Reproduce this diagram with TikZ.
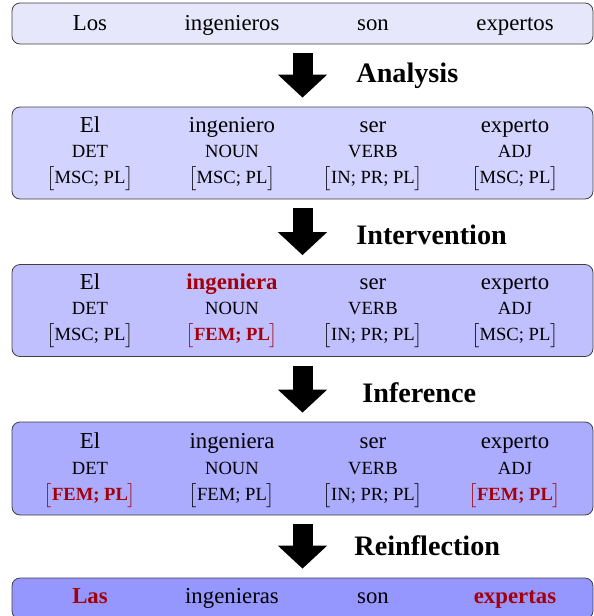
\documentclass[tikz,border=0pt]{standalone}
\usepackage{fontspec}
\setmainfont{Liberation Serif}
\usetikzlibrary{arrows.meta}

\definecolor{hlred}{RGB}{163,0,10}
\definecolor{stageA}{RGB}{231,231,252}
\definecolor{stageB}{RGB}{211,211,255}
\definecolor{stageC}{RGB}{192,192,255}
\definecolor{stageD}{RGB}{172,172,255}
\definecolor{stageE}{RGB}{150,150,255}

\newcommand{\hl}[1]{\textcolor{hlred}{\bfseries #1}}
\newcommand{\fs}[1]{$\big[$#1$\big]$}

\tikzset{
  stagebox/.style={draw=black!75, rounded corners=4pt, minimum width=290.5pt, inner sep=0pt},
  word/.style={anchor=base, font=\fontsize{11.4}{13}\selectfont},
  tag/.style={anchor=base, font=\fontsize{9.3}{11}\selectfont},
  stepname/.style={anchor=base west, inner sep=0pt, font=\fontsize{14.1}{16}\selectfont\bfseries},
  stagearrow/.style={line width=10pt, -{Triangle[width=24pt, length=11.5pt]},
    shorten <=4.5pt, shorten >=4.5pt}
}

\begin{document}
\begin{tikzpicture}[x=0.5pt, y=-0.5pt]
  \clip (0,0) rectangle (594,616);

  % Boxes
  \node[stagebox, fill=stageA, minimum height=20.5pt] (box1) at (302.5, 23.5) {};
  \node[stagebox, fill=stageB, minimum height=46pt] (box2) at (302.5, 153) {};
  \node[stagebox, fill=stageC, minimum height=46pt] (box3) at (302.5, 310.5) {};
  \node[stagebox, fill=stageD, minimum height=46.5pt] (box4) at (302.5, 468.5) {};
  \node[stagebox, fill=stageE, minimum height=20.5pt] (box5) at (302.5, 598.5) {};

  % Sentence (input)
  \foreach \x/\w [count=\i] in {90/Los, 232/ingenieros, 373/son, 515/expertos}
    \node[word] (in\i) at (\x, 30) {\w};

  % Analysis
  \foreach \x/\w/\p/\f [count=\i] in {90/El/DET/MSC; PL, 232/ingeniero/NOUN/MSC; PL,
      373/ser/VERB/IN; PR; PL, 515/experto/ADJ/MSC; PL} {
    \node[word] (an\i) at (\x, 132) {\w};
    \node[tag] (anp\i) at (\x, 157) {\p};
    \node[tag] (anf\i) at (\x, 183) {\fs{\f}};
  }

  % Intervention
  \foreach \x/\w/\p/\f [count=\i] in {90/El/DET/{\fs{MSC; PL}}, 232/{\hl{ingeniera}}/NOUN/{\hl{\fs{FEM; PL}}},
      373/ser/VERB/{\fs{IN; PR; PL}}, 515/experto/ADJ/{\fs{MSC; PL}}} {
    \node[word] (iv\i) at (\x, 289) {\w};
    \node[tag] (ivp\i) at (\x, 314) {\p};
    \node[tag] (ivf\i) at (\x, 340) {\f};
  }

  % Inference
  \foreach \x/\w/\p/\f [count=\i] in {90/El/DET/{\hl{\fs{FEM; PL}}}, 232/ingeniera/NOUN/{\fs{FEM; PL}},
      373/ser/VERB/{\fs{IN; PR; PL}}, 515/experto/ADJ/{\hl{\fs{FEM; PL}}}} {
    \node[word] (if\i) at (\x, 448) {\w};
    \node[tag] (ifp\i) at (\x, 474) {\p};
    \node[tag] (iff\i) at (\x, 500) {\f};
  }

  % Sentence (output)
  \foreach \x/\w [count=\i] in {90/{\hl{Las}}, 232/ingenieras, 373/son, 515/{\hl{expertas}}}
    \node[word] (out\i) at (\x, 603) {\w};

  % Arrows
  \draw[stagearrow] (box1.south) -- (box2.north);
  \draw[stagearrow] (box2.south) -- (box3.north);
  \draw[stagearrow] (box3.south) -- (box4.north);
  \draw[stagearrow] (box4.south) -- (box5.north);

  % Steps
  \node[stepname] (step1) at (356, 82) {Analysis};
  \node[stepname] (step2) at (356, 244) {Intervention};
  \node[stepname] (step3) at (362, 402) {Inference};
  \node[stepname] (step4) at (354, 555) {Reinflection};
\end{tikzpicture}
\end{document}
